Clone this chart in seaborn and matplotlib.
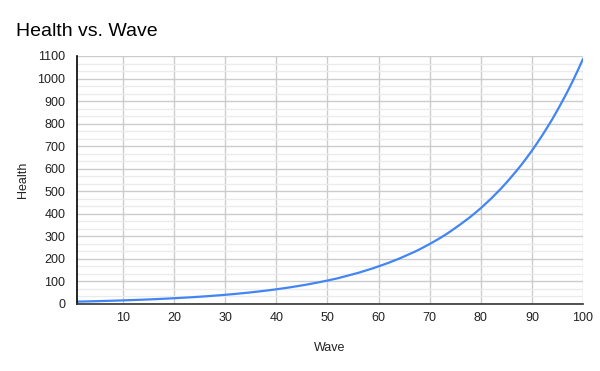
import numpy as np
import pandas as pd
import matplotlib
matplotlib.use("Agg")
import matplotlib.pyplot as plt
import seaborn as sns
from matplotlib.ticker import MultipleLocator

# health, one value per wave
waves = list(range(1, 101))
health = [
    10.5, 11.0, 11.5, 12.1, 12.6, 13.3, 13.9, 14.6, 15.3, 16.0,
    16.8, 17.6, 18.4, 19.3, 20.2, 21.2, 22.2, 23.3, 24.4, 25.5,
    26.8, 28.1, 29.4, 30.8, 32.3, 33.8, 35.5, 37.2, 39.0, 40.8,
    42.8, 44.8, 47.0, 49.2, 51.6, 54.1, 56.7, 59.4, 62.2, 65.2,
    68.4, 71.6, 75.1, 78.7, 82.5, 86.4, 90.6, 94.9, 99.5, 104,
    109, 114, 120, 126, 132, 138, 145, 152, 159, 167,
    175, 183, 192, 201, 211, 221, 231, 242, 254, 266,
    279, 292, 306, 321, 337, 353, 370, 387, 406, 425,
    446, 467, 490, 513, 538, 564, 591, 619, 649, 680,
    713, 747, 783, 820, 860, 901, 944, 989, 1037, 1087,
]
x_ticks = [10, 20, 30, 40, 50, 60, 70, 80, 90, 100]
y_ticks = [0, 100, 200, 300, 400, 500, 600, 700, 800, 900, 1000, 1100]

df = pd.DataFrame({"Wave": waves, "Health": health})

sns.set_style("white")
plt.rcParams["font.family"] = ["Liberation Sans", "DejaVu Sans"]

fig = plt.figure(figsize=(6, 3.71), dpi=100)
ax = fig.add_axes([77 / 600, 67 / 371, 506 / 600, 248 / 371])

sns.lineplot(data=df, x="Wave", y="Health", ax=ax, color="#4285F4", linewidth=1.6)

ax.set_xlim(1, 100)
ax.set_ylim(0, 1100)
ax.set_xticks(x_ticks)
ax.set_yticks(y_ticks)
ax.yaxis.set_minor_locator(MultipleLocator(100 / 3))

ax.grid(True, which="major", color="#cccccc", linewidth=1)
ax.grid(True, which="minor", axis="y", color="#ebebeb", linewidth=1)
ax.set_axisbelow(True)

for s in ["top", "right"]:
    ax.spines[s].set_visible(False)
ax.spines["left"].set_color("#000000")
ax.spines["left"].set_linewidth(1.2)
ax.spines["bottom"].set_color("#333333")
ax.spines["bottom"].set_linewidth(1.2)

ax.tick_params(axis="y", which="major", direction="inout", length=9, width=1.2,
               color="#000000", pad=4, labelsize=9, labelcolor="#222222")
ax.tick_params(axis="y", which="minor", length=0)
ax.tick_params(axis="x", length=0, pad=6, labelsize=9, labelcolor="#222222")

ax.set_xlabel("Wave", fontsize=9, color="#222222", labelpad=13)
ax.set_ylabel("Health", fontsize=9, color="#222222", labelpad=6)

fig.text(16 / 600, 1 - 36 / 371, "Health vs. Wave", fontsize=14, color="#000000",
         ha="left", va="baseline")

fig.savefig("out.png", dpi=100)
